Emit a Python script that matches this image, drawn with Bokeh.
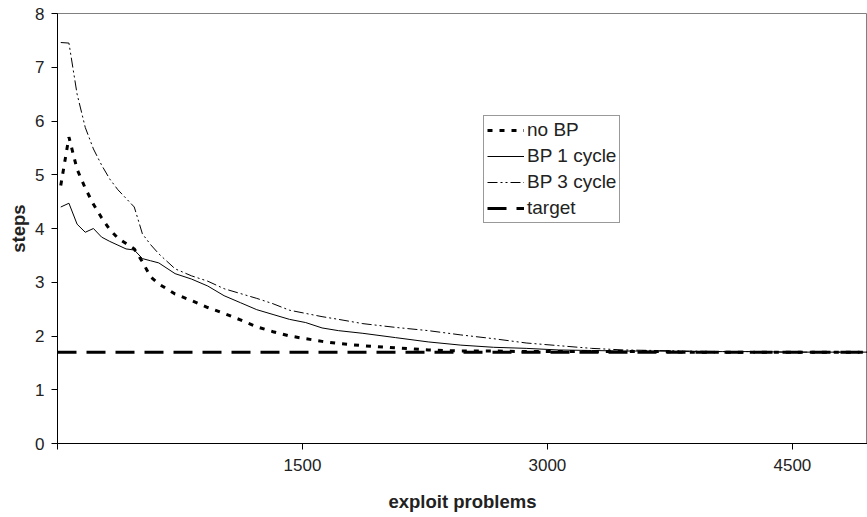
from bokeh.plotting import figure
from bokeh.models import FixedTicker, Range1d, Legend, LegendItem
from bokeh.embed import file_html
from bokeh.resources import INLINE

# exploit problems (x) shared by all series
problems = [20, 70, 120, 170, 220, 270, 320, 370, 420, 470, 520, 570, 620, 720, 820,
            920, 1020, 1120, 1220, 1320, 1420, 1520, 1620, 1720, 1870, 2070, 2270,
            2470, 2670, 2870, 3070, 3270, 3470, 3670, 3870, 4070, 4270, 4470, 4670,
            4870, 4960]

no_bp = [4.80, 5.70, 5.10, 4.75, 4.45, 4.20, 3.98, 3.82, 3.72, 3.62, 3.38, 3.10, 2.97,
         2.78, 2.66, 2.53, 2.42, 2.30, 2.17, 2.08, 2.00, 1.95, 1.90, 1.86, 1.82, 1.78,
         1.74, 1.72, 1.72, 1.71, 1.71, 1.71, 1.71, 1.71, 1.70, 1.70, 1.70, 1.70, 1.70,
         1.70, 1.70]

bp_1 = [4.40, 4.47, 4.08, 3.93, 4.00, 3.84, 3.76, 3.69, 3.62, 3.60, 3.44, 3.40, 3.36,
        3.16, 3.06, 2.93, 2.75, 2.62, 2.49, 2.40, 2.31, 2.25, 2.15, 2.10, 2.05, 1.97,
        1.89, 1.83, 1.79, 1.77, 1.74, 1.73, 1.72, 1.72, 1.71, 1.71, 1.71, 1.70, 1.70,
        1.70, 1.70]

bp_3 = [7.46, 7.45, 6.50, 5.88, 5.48, 5.18, 4.92, 4.72, 4.56, 4.40, 3.90, 3.70, 3.53,
        3.25, 3.12, 3.02, 2.88, 2.79, 2.70, 2.60, 2.48, 2.42, 2.36, 2.31, 2.23, 2.16,
        2.10, 2.02, 1.95, 1.87, 1.82, 1.77, 1.74, 1.73, 1.72, 1.71, 1.71, 1.70, 1.70,
        1.70, 1.70]

target_x = [0, 4960]
target_y = [1.70, 1.70]

x_ticks = [0, 1500, 3000, 4500]
y_ticks = [0, 1, 2, 3, 4, 5, 6, 7, 8]

FONT = "Liberation Sans"

p = figure(width=867, height=517, output_backend="svg", toolbar_location=None,
           x_range=Range1d(0, 4960), y_range=Range1d(0, 8),
           min_border_left=57, min_border_right=0, min_border_top=13,
           min_border_bottom=74)

p.background_fill_color = "white"
p.border_fill_color = "white"
p.outline_line_color = "#808080"
p.outline_line_width = 1
p.xgrid.visible = False
p.ygrid.visible = False

r_no = p.line(problems, no_bp, line_color="black", line_width=3, line_dash="5 7")
r_1 = p.line(problems, bp_1, line_color="black", line_width=1)
r_3 = p.line(problems, bp_3, line_color="black", line_width=1, line_dash="10 3 2 3 2 3")
r_t = p.line(target_x, target_y, line_color="black", line_width=3, line_dash="19 10")

# axes
p.xaxis.ticker = FixedTicker(ticks=x_ticks)
p.xaxis.major_label_overrides = {0: ""}
p.yaxis.ticker = FixedTicker(ticks=y_ticks)
for ax in (p.xaxis[0], p.yaxis[0]):
    ax.axis_line_color = "black"
    ax.axis_line_width = 1
    ax.major_tick_line_color = "black"
    ax.major_tick_in = 0
    ax.major_tick_out = 6
    ax.minor_tick_line_color = None
    ax.major_label_text_font = FONT
    ax.major_label_text_font_size = "17px"
    ax.major_label_text_color = "#222222"
    ax.axis_label_text_font = FONT
    ax.axis_label_text_font_size = "18.5px"
    ax.axis_label_text_font_style = "bold"
    ax.axis_label_text_color = "#222222"

p.xaxis.axis_label = "exploit problems"
p.yaxis.axis_label = "steps"
p.xaxis.major_label_standoff = 9
p.xaxis.axis_label_standoff = 17
p.yaxis.major_label_standoff = 7
p.yaxis.axis_label_standoff = 3

legend = Legend(items=[
    LegendItem(label="no BP", renderers=[r_no]),
    LegendItem(label="BP 1 cycle", renderers=[r_1]),
    LegendItem(label="BP 3 cycle", renderers=[r_3]),
    LegendItem(label="target", renderers=[r_t]),
], location=(426, 220))
legend.label_text_font = FONT
legend.label_text_font_size = "19px"
legend.label_text_color = "#222222"
legend.glyph_width = 37
legend.glyph_height = 20
legend.label_height = 20
legend.label_standoff = 3
legend.spacing = 4
legend.padding = 3
legend.margin = 0
legend.border_line_color = "#333333"
legend.border_line_width = 1
legend.background_fill_alpha = 1
p.add_layout(legend, "center")

open("out.html", "w").write(file_html(p, INLINE))
